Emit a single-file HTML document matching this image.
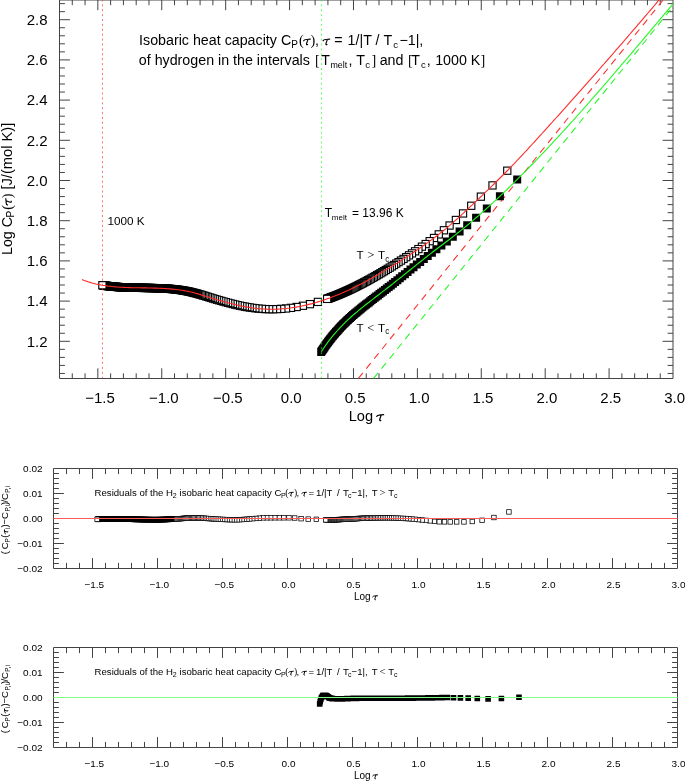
<!DOCTYPE html><html><head><meta charset="utf-8"><title>plot</title><style>html,body{margin:0;padding:0;background:#fff}svg{display:block;will-change:transform}</style></head><body><svg width="685" height="781" viewBox="0 0 685 781" font-family="'Liberation Sans', sans-serif" fill="#000"><rect width="685" height="781" fill="#fff"/><path d="M59.5 0.0V378.5H673.0V0.0ZM72.28 378.5v-5.2M72.28 0.0v5.2M85.06 378.5v-5.2M85.06 0.0v5.2M97.84 378.5v-10.2M97.84 0.0v10.2M110.63 378.5v-5.2M110.63 0.0v5.2M123.41 378.5v-5.2M123.41 0.0v5.2M136.19 378.5v-5.2M136.19 0.0v5.2M148.97 378.5v-5.2M148.97 0.0v5.2M161.75 378.5v-10.2M161.75 0.0v10.2M174.53 378.5v-5.2M174.53 0.0v5.2M187.31 378.5v-5.2M187.31 0.0v5.2M200.09 378.5v-5.2M200.09 0.0v5.2M212.88 378.5v-5.2M212.88 0.0v5.2M225.66 378.5v-10.2M225.66 0.0v10.2M238.44 378.5v-5.2M238.44 0.0v5.2M251.22 378.5v-5.2M251.22 0.0v5.2M264.00 378.5v-5.2M264.00 0.0v5.2M276.78 378.5v-5.2M276.78 0.0v5.2M289.56 378.5v-10.2M289.56 0.0v10.2M302.34 378.5v-5.2M302.34 0.0v5.2M315.12 378.5v-5.2M315.12 0.0v5.2M327.91 378.5v-5.2M327.91 0.0v5.2M340.69 378.5v-5.2M340.69 0.0v5.2M353.47 378.5v-10.2M353.47 0.0v10.2M366.25 378.5v-5.2M366.25 0.0v5.2M379.03 378.5v-5.2M379.03 0.0v5.2M391.81 378.5v-5.2M391.81 0.0v5.2M404.59 378.5v-5.2M404.59 0.0v5.2M417.38 378.5v-10.2M417.38 0.0v10.2M430.16 378.5v-5.2M430.16 0.0v5.2M442.94 378.5v-5.2M442.94 0.0v5.2M455.72 378.5v-5.2M455.72 0.0v5.2M468.50 378.5v-5.2M468.50 0.0v5.2M481.28 378.5v-10.2M481.28 0.0v10.2M494.06 378.5v-5.2M494.06 0.0v5.2M506.84 378.5v-5.2M506.84 0.0v5.2M519.62 378.5v-5.2M519.62 0.0v5.2M532.41 378.5v-5.2M532.41 0.0v5.2M545.19 378.5v-10.2M545.19 0.0v10.2M557.97 378.5v-5.2M557.97 0.0v5.2M570.75 378.5v-5.2M570.75 0.0v5.2M583.53 378.5v-5.2M583.53 0.0v5.2M596.31 378.5v-5.2M596.31 0.0v5.2M609.09 378.5v-10.2M609.09 0.0v10.2M621.88 378.5v-5.2M621.88 0.0v5.2M634.66 378.5v-5.2M634.66 0.0v5.2M647.44 378.5v-5.2M647.44 0.0v5.2M660.22 378.5v-5.2M660.22 0.0v5.2M59.5 373.46h5.4M673.0 373.46h-5.4M59.5 365.42h5.4M673.0 365.42h-5.4M59.5 357.38h5.4M673.0 357.38h-5.4M59.5 349.34h5.4M673.0 349.34h-5.4M59.5 341.30h10.4M673.0 341.30h-10.4M59.5 333.26h5.4M673.0 333.26h-5.4M59.5 325.22h5.4M673.0 325.22h-5.4M59.5 317.18h5.4M673.0 317.18h-5.4M59.5 309.14h5.4M673.0 309.14h-5.4M59.5 301.10h10.4M673.0 301.10h-10.4M59.5 293.06h5.4M673.0 293.06h-5.4M59.5 285.02h5.4M673.0 285.02h-5.4M59.5 276.98h5.4M673.0 276.98h-5.4M59.5 268.94h5.4M673.0 268.94h-5.4M59.5 260.90h10.4M673.0 260.90h-10.4M59.5 252.86h5.4M673.0 252.86h-5.4M59.5 244.82h5.4M673.0 244.82h-5.4M59.5 236.78h5.4M673.0 236.78h-5.4M59.5 228.74h5.4M673.0 228.74h-5.4M59.5 220.70h10.4M673.0 220.70h-10.4M59.5 212.66h5.4M673.0 212.66h-5.4M59.5 204.62h5.4M673.0 204.62h-5.4M59.5 196.58h5.4M673.0 196.58h-5.4M59.5 188.54h5.4M673.0 188.54h-5.4M59.5 180.50h10.4M673.0 180.50h-10.4M59.5 172.46h5.4M673.0 172.46h-5.4M59.5 164.42h5.4M673.0 164.42h-5.4M59.5 156.38h5.4M673.0 156.38h-5.4M59.5 148.34h5.4M673.0 148.34h-5.4M59.5 140.30h10.4M673.0 140.30h-10.4M59.5 132.26h5.4M673.0 132.26h-5.4M59.5 124.22h5.4M673.0 124.22h-5.4M59.5 116.18h5.4M673.0 116.18h-5.4M59.5 108.14h5.4M673.0 108.14h-5.4M59.5 100.10h10.4M673.0 100.10h-10.4M59.5 92.06h5.4M673.0 92.06h-5.4M59.5 84.02h5.4M673.0 84.02h-5.4M59.5 75.98h5.4M673.0 75.98h-5.4M59.5 67.94h5.4M673.0 67.94h-5.4M59.5 59.90h10.4M673.0 59.90h-10.4M59.5 51.86h5.4M673.0 51.86h-5.4M59.5 43.82h5.4M673.0 43.82h-5.4M59.5 35.78h5.4M673.0 35.78h-5.4M59.5 27.74h5.4M673.0 27.74h-5.4M59.5 19.70h10.4M673.0 19.70h-10.4M59.5 11.66h5.4M673.0 11.66h-5.4M59.5 3.62h5.4M673.0 3.62h-5.4" fill="none" stroke="#444" stroke-width="1"/><g font-size="15"><text x="47.6" y="25.0" text-anchor="end">2.8</text><text x="47.6" y="65.2" text-anchor="end">2.6</text><text x="47.6" y="105.4" text-anchor="end">2.4</text><text x="47.6" y="145.6" text-anchor="end">2.2</text><text x="47.6" y="185.8" text-anchor="end">2.0</text><text x="47.6" y="226.0" text-anchor="end">1.8</text><text x="47.6" y="266.2" text-anchor="end">1.6</text><text x="47.6" y="306.4" text-anchor="end">1.4</text><text x="47.6" y="346.6" text-anchor="end">1.2</text><text x="100.0" y="402.6" text-anchor="middle">−1.5</text><text x="163.9" y="402.6" text-anchor="middle">−1.0</text><text x="227.9" y="402.6" text-anchor="middle">−0.5</text><text x="291.3" y="402.6" text-anchor="middle">0.0</text><text x="355.2" y="402.6" text-anchor="middle">0.5</text><text x="419.1" y="402.6" text-anchor="middle">1.0</text><text x="483.0" y="402.6" text-anchor="middle">1.5</text><text x="546.9" y="402.6" text-anchor="middle">2.0</text><text x="610.8" y="402.6" text-anchor="middle">2.5</text><text x="674.7" y="402.6" text-anchor="middle">3.0</text></g><clipPath id="c1"><rect x="59.5" y="0" width="613.5" height="378.5"/></clipPath><g clip-path="url(#c1)"><path d="M358.4 378.4L680.5 -21.6" stroke="#ff2a2a" stroke-width="1.05" stroke-dasharray="7 5.6" fill="none"/><path d="M373.6 378.4L695.7 -21.6" stroke="#22f822" stroke-width="1.05" stroke-dasharray="7 5.6" fill="none"/><g fill="#fff" stroke="#000" stroke-width="1.12"><rect x="503.67" y="167.10" width="7.2" height="7.2"/><rect x="488.91" y="181.82" width="7.2" height="7.2"/><rect x="477.27" y="193.05" width="7.2" height="7.2"/><rect x="467.64" y="202.16" width="7.2" height="7.2"/><rect x="459.45" y="209.85" width="7.2" height="7.2"/><rect x="452.31" y="216.37" width="7.2" height="7.2"/><rect x="445.98" y="221.93" width="7.2" height="7.2"/><rect x="440.30" y="226.68" width="7.2" height="7.2"/><rect x="435.15" y="230.78" width="7.2" height="7.2"/><rect x="430.44" y="234.37" width="7.2" height="7.2"/><rect x="426.09" y="237.57" width="7.2" height="7.2"/><rect x="422.06" y="240.45" width="7.2" height="7.2"/><rect x="418.31" y="243.07" width="7.2" height="7.2"/><rect x="414.79" y="245.48" width="7.2" height="7.2"/><rect x="411.48" y="247.71" width="7.2" height="7.2"/><rect x="408.36" y="249.79" width="7.2" height="7.2"/><rect x="405.40" y="251.74" width="7.2" height="7.2"/><rect x="402.60" y="253.58" width="7.2" height="7.2"/><rect x="399.92" y="255.32" width="7.2" height="7.2"/><rect x="397.38" y="256.96" width="7.2" height="7.2"/><rect x="394.94" y="258.52" width="7.2" height="7.2"/><rect x="392.61" y="260.00" width="7.2" height="7.2"/><rect x="390.37" y="261.41" width="7.2" height="7.2"/><rect x="388.21" y="262.75" width="7.2" height="7.2"/><rect x="386.14" y="264.04" width="7.2" height="7.2"/><rect x="384.14" y="265.26" width="7.2" height="7.2"/><rect x="382.21" y="266.43" width="7.2" height="7.2"/><rect x="380.35" y="267.56" width="7.2" height="7.2"/><rect x="378.55" y="268.63" width="7.2" height="7.2"/><rect x="376.80" y="269.66" width="7.2" height="7.2"/><rect x="375.11" y="270.66" width="7.2" height="7.2"/><rect x="373.46" y="271.61" width="7.2" height="7.2"/><rect x="371.87" y="272.53" width="7.2" height="7.2"/><rect x="370.32" y="273.41" width="7.2" height="7.2"/><rect x="368.81" y="274.26" width="7.2" height="7.2"/><rect x="367.34" y="275.09" width="7.2" height="7.2"/><rect x="365.91" y="275.88" width="7.2" height="7.2"/><rect x="364.51" y="276.64" width="7.2" height="7.2"/><rect x="363.15" y="277.38" width="7.2" height="7.2"/><rect x="361.82" y="278.10" width="7.2" height="7.2"/><rect x="360.52" y="278.79" width="7.2" height="7.2"/><rect x="359.26" y="279.46" width="7.2" height="7.2"/><rect x="358.02" y="280.11" width="7.2" height="7.2"/><rect x="356.80" y="280.73" width="7.2" height="7.2"/><rect x="355.62" y="281.34" width="7.2" height="7.2"/><rect x="354.46" y="281.93" width="7.2" height="7.2"/><rect x="353.32" y="282.51" width="7.2" height="7.2"/><rect x="352.20" y="283.06" width="7.2" height="7.2"/><rect x="351.11" y="283.60" width="7.2" height="7.2"/><rect x="350.04" y="284.12" width="7.2" height="7.2"/><rect x="348.99" y="284.63" width="7.2" height="7.2"/><rect x="347.95" y="285.12" width="7.2" height="7.2"/><rect x="346.94" y="285.60" width="7.2" height="7.2"/><rect x="345.95" y="286.07" width="7.2" height="7.2"/><rect x="344.97" y="286.53" width="7.2" height="7.2" fill="#000"/><rect x="344.01" y="286.97" width="7.2" height="7.2" fill="#000"/><rect x="343.06" y="287.40" width="7.2" height="7.2" fill="#000"/><rect x="342.13" y="287.82" width="7.2" height="7.2" fill="#000"/><rect x="341.22" y="288.22" width="7.2" height="7.2" fill="#000"/><rect x="340.32" y="288.62" width="7.2" height="7.2" fill="#000"/><rect x="339.44" y="289.01" width="7.2" height="7.2" fill="#000"/><rect x="338.57" y="289.38" width="7.2" height="7.2" fill="#000"/><rect x="337.71" y="289.75" width="7.2" height="7.2" fill="#000"/><rect x="336.87" y="290.11" width="7.2" height="7.2" fill="#000"/><rect x="336.04" y="290.46" width="7.2" height="7.2" fill="#000"/><rect x="335.22" y="290.80" width="7.2" height="7.2" fill="#000"/><rect x="334.41" y="291.13" width="7.2" height="7.2" fill="#000"/><rect x="333.61" y="291.46" width="7.2" height="7.2" fill="#000"/><rect x="332.83" y="291.77" width="7.2" height="7.2" fill="#000"/><rect x="332.06" y="292.08" width="7.2" height="7.2" fill="#000"/><rect x="331.29" y="292.38" width="7.2" height="7.2" fill="#000"/><rect x="330.54" y="292.68" width="7.2" height="7.2" fill="#000"/><rect x="329.80" y="292.97" width="7.2" height="7.2" fill="#000"/><rect x="329.07" y="293.25" width="7.2" height="7.2" fill="#000"/><rect x="328.34" y="293.52" width="7.2" height="7.2" fill="#000"/><rect x="327.63" y="293.79" width="7.2" height="7.2" fill="#000"/><rect x="326.93" y="294.06" width="7.2" height="7.2" fill="#000"/><rect x="326.23" y="294.31" width="7.2" height="7.2" fill="#000"/><rect x="325.54" y="294.56" width="7.2" height="7.2" fill="#000"/><rect x="324.86" y="294.81" width="7.2" height="7.2" fill="#000"/><rect x="324.19" y="295.05" width="7.2" height="7.2" fill="#000"/><rect x="323.53" y="295.29" width="7.2" height="7.2"/><rect x="314.30" y="298.31" width="7.2" height="7.2"/><rect x="306.31" y="300.54" width="7.2" height="7.2"/><rect x="299.32" y="302.17" width="7.2" height="7.2"/><rect x="293.03" y="303.39" width="7.2" height="7.2"/><rect x="287.40" y="304.26" width="7.2" height="7.2"/><rect x="282.39" y="304.87" width="7.2" height="7.2"/><rect x="277.77" y="305.27" width="7.2" height="7.2"/><rect x="273.47" y="305.51" width="7.2" height="7.2"/><rect x="269.42" y="305.62" width="7.2" height="7.2"/><rect x="265.56" y="305.61" width="7.2" height="7.2"/><rect x="261.86" y="305.50" width="7.2" height="7.2"/><rect x="258.32" y="305.30" width="7.2" height="7.2"/><rect x="254.92" y="305.02" width="7.2" height="7.2"/><rect x="251.77" y="304.67" width="7.2" height="7.2"/><rect x="248.85" y="304.29" width="7.2" height="7.2"/><rect x="246.18" y="303.90" width="7.2" height="7.2"/><rect x="243.73" y="303.49" width="7.2" height="7.2"/><rect x="241.29" y="303.05" width="7.2" height="7.2"/><rect x="238.86" y="302.58" width="7.2" height="7.2"/><rect x="236.45" y="302.08" width="7.2" height="7.2"/><rect x="234.04" y="301.55" width="7.2" height="7.2"/><rect x="231.65" y="301.00" width="7.2" height="7.2"/><rect x="229.27" y="300.42" width="7.2" height="7.2"/><rect x="226.89" y="299.83" width="7.2" height="7.2"/><rect x="224.53" y="299.21" width="7.2" height="7.2"/><rect x="222.18" y="298.58" width="7.2" height="7.2"/><rect x="219.90" y="297.95" width="7.2" height="7.2"/><rect x="217.69" y="297.32" width="7.2" height="7.2"/><rect x="215.54" y="296.70" width="7.2" height="7.2"/><rect x="213.47" y="296.09" width="7.2" height="7.2"/><rect x="211.45" y="295.49" width="7.2" height="7.2"/><rect x="209.50" y="294.90" width="7.2" height="7.2"/><rect x="207.65" y="294.33" width="7.2" height="7.2"/><rect x="205.88" y="293.79" width="7.2" height="7.2"/><rect x="204.21" y="293.27" width="7.2" height="7.2"/><rect x="202.62" y="292.78" width="7.2" height="7.2"/><rect x="201.11" y="292.31" width="7.2" height="7.2"/><rect x="199.65" y="291.87" width="7.2" height="7.2"/><rect x="198.25" y="291.44" width="7.2" height="7.2"/><rect x="196.90" y="291.04" width="7.2" height="7.2"/><rect x="195.60" y="290.66" width="7.2" height="7.2"/><rect x="194.34" y="290.30" width="7.2" height="7.2"/><rect x="193.11" y="289.95" width="7.2" height="7.2" fill="#000"/><rect x="191.90" y="289.62" width="7.2" height="7.2" fill="#000"/><rect x="190.70" y="289.30" width="7.2" height="7.2" fill="#000"/><rect x="189.53" y="289.00" width="7.2" height="7.2" fill="#000"/><rect x="188.38" y="288.71" width="7.2" height="7.2" fill="#000"/><rect x="187.25" y="288.44" width="7.2" height="7.2" fill="#000"/><rect x="186.13" y="288.18" width="7.2" height="7.2" fill="#000"/><rect x="185.03" y="287.94" width="7.2" height="7.2" fill="#000"/><rect x="183.94" y="287.71" width="7.2" height="7.2" fill="#000"/><rect x="182.85" y="287.49" width="7.2" height="7.2" fill="#000"/><rect x="181.77" y="287.29" width="7.2" height="7.2" fill="#000"/><rect x="180.69" y="287.09" width="7.2" height="7.2" fill="#000"/><rect x="179.62" y="286.91" width="7.2" height="7.2" fill="#000"/><rect x="178.56" y="286.73" width="7.2" height="7.2" fill="#000"/><rect x="177.50" y="286.56" width="7.2" height="7.2" fill="#000"/><rect x="176.44" y="286.41" width="7.2" height="7.2" fill="#000"/><rect x="175.39" y="286.26" width="7.2" height="7.2" fill="#000"/><rect x="174.35" y="286.12" width="7.2" height="7.2" fill="#000"/><rect x="173.31" y="285.99" width="7.2" height="7.2" fill="#000"/><rect x="172.27" y="285.86" width="7.2" height="7.2" fill="#000"/><rect x="171.24" y="285.75" width="7.2" height="7.2" fill="#000"/><rect x="170.22" y="285.64" width="7.2" height="7.2" fill="#000"/><rect x="169.20" y="285.54" width="7.2" height="7.2" fill="#000"/><rect x="168.18" y="285.44" width="7.2" height="7.2" fill="#000"/><rect x="167.18" y="285.35" width="7.2" height="7.2" fill="#000"/><rect x="166.17" y="285.27" width="7.2" height="7.2" fill="#000"/><rect x="165.17" y="285.19" width="7.2" height="7.2" fill="#000"/><rect x="164.18" y="285.11" width="7.2" height="7.2" fill="#000"/><rect x="163.19" y="285.05" width="7.2" height="7.2" fill="#000"/><rect x="162.21" y="284.98" width="7.2" height="7.2" fill="#000"/><rect x="161.23" y="284.92" width="7.2" height="7.2" fill="#000"/><rect x="160.25" y="284.87" width="7.2" height="7.2" fill="#000"/><rect x="159.28" y="284.82" width="7.2" height="7.2" fill="#000"/><rect x="158.32" y="284.77" width="7.2" height="7.2" fill="#000"/><rect x="157.36" y="284.73" width="7.2" height="7.2" fill="#000"/><rect x="156.41" y="284.69" width="7.2" height="7.2" fill="#000"/><rect x="155.46" y="284.65" width="7.2" height="7.2" fill="#000"/><rect x="154.51" y="284.62" width="7.2" height="7.2" fill="#000"/><rect x="153.57" y="284.58" width="7.2" height="7.2" fill="#000"/><rect x="152.63" y="284.55" width="7.2" height="7.2" fill="#000"/><rect x="151.70" y="284.53" width="7.2" height="7.2" fill="#000"/><rect x="150.78" y="284.50" width="7.2" height="7.2" fill="#000"/><rect x="149.85" y="284.48" width="7.2" height="7.2" fill="#000"/><rect x="148.94" y="284.46" width="7.2" height="7.2" fill="#000"/><rect x="148.02" y="284.44" width="7.2" height="7.2" fill="#000"/><rect x="147.12" y="284.42" width="7.2" height="7.2" fill="#000"/><rect x="146.21" y="284.40" width="7.2" height="7.2" fill="#000"/><rect x="145.31" y="284.39" width="7.2" height="7.2" fill="#000"/><rect x="144.42" y="284.37" width="7.2" height="7.2" fill="#000"/><rect x="143.54" y="284.35" width="7.2" height="7.2" fill="#000"/><rect x="142.66" y="284.34" width="7.2" height="7.2" fill="#000"/><rect x="141.79" y="284.33" width="7.2" height="7.2" fill="#000"/><rect x="140.93" y="284.31" width="7.2" height="7.2" fill="#000"/><rect x="140.08" y="284.30" width="7.2" height="7.2" fill="#000"/><rect x="139.23" y="284.29" width="7.2" height="7.2" fill="#000"/><rect x="138.39" y="284.27" width="7.2" height="7.2" fill="#000"/><rect x="137.56" y="284.26" width="7.2" height="7.2" fill="#000"/><rect x="136.73" y="284.25" width="7.2" height="7.2" fill="#000"/><rect x="135.91" y="284.23" width="7.2" height="7.2" fill="#000"/><rect x="135.10" y="284.22" width="7.2" height="7.2" fill="#000"/><rect x="134.29" y="284.20" width="7.2" height="7.2" fill="#000"/><rect x="133.49" y="284.19" width="7.2" height="7.2" fill="#000"/><rect x="132.70" y="284.17" width="7.2" height="7.2" fill="#000"/><rect x="131.92" y="284.16" width="7.2" height="7.2" fill="#000"/><rect x="131.14" y="284.14" width="7.2" height="7.2" fill="#000"/><rect x="130.36" y="284.12" width="7.2" height="7.2" fill="#000"/><rect x="129.60" y="284.10" width="7.2" height="7.2" fill="#000"/><rect x="128.84" y="284.09" width="7.2" height="7.2" fill="#000"/><rect x="128.08" y="284.07" width="7.2" height="7.2" fill="#000"/><rect x="127.34" y="284.04" width="7.2" height="7.2" fill="#000"/><rect x="126.60" y="284.02" width="7.2" height="7.2" fill="#000"/><rect x="125.86" y="284.00" width="7.2" height="7.2" fill="#000"/><rect x="125.13" y="283.97" width="7.2" height="7.2" fill="#000"/><rect x="124.41" y="283.95" width="7.2" height="7.2" fill="#000"/><rect x="123.69" y="283.92" width="7.2" height="7.2" fill="#000"/><rect x="122.98" y="283.89" width="7.2" height="7.2" fill="#000"/><rect x="122.28" y="283.86" width="7.2" height="7.2" fill="#000"/><rect x="121.58" y="283.83" width="7.2" height="7.2" fill="#000"/><rect x="120.88" y="283.80" width="7.2" height="7.2" fill="#000"/><rect x="120.20" y="283.77" width="7.2" height="7.2" fill="#000"/><rect x="119.52" y="283.74" width="7.2" height="7.2" fill="#000"/><rect x="118.84" y="283.70" width="7.2" height="7.2" fill="#000"/><rect x="118.17" y="283.66" width="7.2" height="7.2" fill="#000"/><rect x="117.50" y="283.62" width="7.2" height="7.2" fill="#000"/><rect x="116.85" y="283.58" width="7.2" height="7.2" fill="#000"/><rect x="116.19" y="283.54" width="7.2" height="7.2" fill="#000"/><rect x="115.54" y="283.50" width="7.2" height="7.2" fill="#000"/><rect x="114.90" y="283.46" width="7.2" height="7.2" fill="#000"/><rect x="114.26" y="283.41" width="7.2" height="7.2" fill="#000"/><rect x="113.63" y="283.37" width="7.2" height="7.2" fill="#000"/><rect x="113.00" y="283.32" width="7.2" height="7.2" fill="#000"/><rect x="112.38" y="283.27" width="7.2" height="7.2" fill="#000"/><rect x="111.77" y="283.22" width="7.2" height="7.2" fill="#000"/><rect x="111.15" y="283.17" width="7.2" height="7.2" fill="#000"/><rect x="110.55" y="283.11" width="7.2" height="7.2" fill="#000"/><rect x="109.95" y="283.06" width="7.2" height="7.2" fill="#000"/><rect x="109.35" y="283.00" width="7.2" height="7.2" fill="#000"/><rect x="108.76" y="282.94" width="7.2" height="7.2" fill="#000"/><rect x="108.17" y="282.88" width="7.2" height="7.2" fill="#000"/><rect x="107.59" y="282.82" width="7.2" height="7.2" fill="#000"/><rect x="107.01" y="282.76" width="7.2" height="7.2" fill="#000"/><rect x="106.44" y="282.70" width="7.2" height="7.2" fill="#000"/><rect x="105.88" y="282.63" width="7.2" height="7.2" fill="#000"/><rect x="105.31" y="282.57" width="7.2" height="7.2" fill="#000"/><rect x="104.76" y="282.50" width="7.2" height="7.2" fill="#000"/><rect x="104.20" y="282.43" width="7.2" height="7.2" fill="#000"/><rect x="103.65" y="282.36" width="7.2" height="7.2" fill="#000"/><rect x="103.11" y="282.29" width="7.2" height="7.2" fill="#000"/><rect x="102.57" y="282.22" width="7.2" height="7.2" fill="#000"/><rect x="102.04" y="282.14" width="7.2" height="7.2" fill="#000"/><rect x="101.51" y="282.07" width="7.2" height="7.2" fill="#000"/><rect x="100.98" y="281.99" width="7.2" height="7.2" fill="#000"/><rect x="100.46" y="281.91" width="7.2" height="7.2" fill="#000"/><rect x="99.94" y="281.83" width="7.2" height="7.2" fill="#000"/><rect x="99.43" y="281.75" width="7.2" height="7.2" fill="#000"/><rect x="98.80" y="281.65" width="7.2" height="7.2"/></g><path d="M513.2 175.5h8.0v8.0h-8.0zM495.9 192.2h8.0v8.0h-8.0zM482.8 204.4h8.0v8.0h-8.0zM472.1 213.7h8.0v8.0h-8.0zM463.2 221.3h8.0v8.0h-8.0zM455.6 227.5h8.0v8.0h-8.0zM448.8 232.8h8.0v8.0h-8.0zM442.8 237.4h8.0v8.0h-8.0zM437.4 241.5h8.0v8.0h-8.0zM432.4 245.2h8.0v8.0h-8.0zM427.9 248.7h8.0v8.0h-8.0zM423.7 251.9h8.0v8.0h-8.0zM419.8 255.0h8.0v8.0h-8.0zM416.2 257.9h8.0v8.0h-8.0zM412.8 260.6h8.0v8.0h-8.0zM409.5 263.2h8.0v8.0h-8.0zM406.5 265.6h8.0v8.0h-8.0zM403.6 267.9h8.0v8.0h-8.0zM400.9 270.2h8.0v8.0h-8.0zM398.2 272.3h8.0v8.0h-8.0zM395.8 274.3h8.0v8.0h-8.0zM393.4 276.2h8.0v8.0h-8.0zM391.1 278.0h8.0v8.0h-8.0zM388.9 279.7h8.0v8.0h-8.0zM386.8 281.4h8.0v8.0h-8.0zM384.7 283.0h8.0v8.0h-8.0zM382.8 284.5h8.0v8.0h-8.0zM380.9 286.0h8.0v8.0h-8.0zM379.0 287.4h8.0v8.0h-8.0zM377.2 288.7h8.0v8.0h-8.0zM375.5 290.1h8.0v8.0h-8.0zM373.9 291.4h8.0v8.0h-8.0zM372.2 292.6h8.0v8.0h-8.0zM370.7 293.8h8.0v8.0h-8.0zM369.1 295.0h8.0v8.0h-8.0zM367.6 296.1h8.0v8.0h-8.0zM366.2 297.3h8.0v8.0h-8.0zM364.8 298.4h8.0v8.0h-8.0zM363.4 299.4h8.0v8.0h-8.0zM362.0 300.5h8.0v8.0h-8.0zM360.7 301.5h8.0v8.0h-8.0zM359.4 302.6h8.0v8.0h-8.0zM358.2 303.6h8.0v8.0h-8.0zM357.0 304.5h8.0v8.0h-8.0zM355.8 305.5h8.0v8.0h-8.0zM354.6 306.5h8.0v8.0h-8.0zM353.4 307.4h8.0v8.0h-8.0zM352.3 308.4h8.0v8.0h-8.0zM351.2 309.3h8.0v8.0h-8.0zM350.1 310.2h8.0v8.0h-8.0zM349.1 311.1h8.0v8.0h-8.0zM348.0 312.1h8.0v8.0h-8.0zM347.0 313.0h8.0v8.0h-8.0zM346.0 313.9h8.0v8.0h-8.0zM345.0 314.8h8.0v8.0h-8.0zM344.0 315.7h8.0v8.0h-8.0zM343.1 316.6h8.0v8.0h-8.0zM342.1 317.5h8.0v8.0h-8.0zM341.2 318.4h8.0v8.0h-8.0zM340.3 319.3h8.0v8.0h-8.0zM339.4 320.1h8.0v8.0h-8.0zM338.5 321.0h8.0v8.0h-8.0zM337.7 321.9h8.0v8.0h-8.0zM336.8 322.8h8.0v8.0h-8.0zM336.0 323.7h8.0v8.0h-8.0zM335.2 324.6h8.0v8.0h-8.0zM334.4 325.5h8.0v8.0h-8.0zM333.6 326.4h8.0v8.0h-8.0zM332.8 327.2h8.0v8.0h-8.0zM332.0 328.1h8.0v8.0h-8.0zM331.2 329.0h8.0v8.0h-8.0zM330.5 329.9h8.0v8.0h-8.0zM329.7 330.8h8.0v8.0h-8.0zM329.0 331.7h8.0v8.0h-8.0zM328.2 332.6h8.0v8.0h-8.0zM327.5 333.5h8.0v8.0h-8.0zM326.8 334.4h8.0v8.0h-8.0zM326.1 335.3h8.0v8.0h-8.0zM325.4 336.2h8.0v8.0h-8.0zM324.7 337.1h8.0v8.0h-8.0zM324.1 338.0h8.0v8.0h-8.0zM323.4 338.9h8.0v8.0h-8.0zM322.7 339.8h8.0v8.0h-8.0zM322.1 340.7h8.0v8.0h-8.0zM321.4 341.6h8.0v8.0h-8.0zM320.8 342.5h8.0v8.0h-8.0zM320.2 343.4h8.0v8.0h-8.0zM319.6 344.4h8.0v8.0h-8.0zM318.9 345.3h8.0v8.0h-8.0zM318.3 346.2h8.0v8.0h-8.0zM317.7 347.1h8.0v8.0h-8.0zM317.2 347.9h8.0v8.0h-8.0z" fill="#000" stroke="none"/><path d="M102.5 0V378" stroke="#ff2a2a" stroke-width="1" stroke-dasharray="2 2.9" stroke-dashoffset="0.6" fill="none" opacity="0.66"/><path d="M321.4 0V378" stroke="#22f822" stroke-width="1" stroke-dasharray="2 2.9" stroke-dashoffset="0.6" fill="none" opacity="0.66"/><path d="M82.0 279.6L84.0 280.4L86.0 281.1L88.0 281.8L90.0 282.4L92.0 283.0L94.0 283.5L96.0 284.0L98.0 284.4L100.0 284.8L102.0 285.2L104.0 285.5L106.0 285.8L108.0 286.1L110.0 286.3L112.0 286.5L114.0 286.7L116.0 286.9L118.0 287.0L120.0 287.2L122.0 287.3L124.0 287.4L126.0 287.5L128.0 287.5L130.0 287.6L132.0 287.7L134.0 287.7L136.0 287.8L138.0 287.8L140.0 287.8L142.0 287.9L144.0 287.9L146.0 287.9L148.0 288.0L150.0 288.0L152.0 288.0L154.0 288.1L156.0 288.1L158.0 288.2L160.0 288.3L162.0 288.4L164.0 288.5L166.0 288.6L168.0 288.7L170.0 288.9L172.0 289.1L174.0 289.3L176.0 289.5L178.0 289.7L180.0 290.0L182.0 290.3L184.0 290.6L186.0 291.0L188.0 291.4L190.0 291.8L192.0 292.3L194.0 292.8L196.0 293.4L198.0 293.9L200.0 294.5L202.0 295.1L204.0 295.7L206.0 296.3L208.0 296.9L210.0 297.5L212.0 298.2L214.0 298.8L216.0 299.4L218.0 300.0L220.0 300.5L222.0 301.1L224.0 301.7L226.0 302.2L228.0 302.8L230.0 303.3L232.0 303.8L234.0 304.3L236.0 304.8L238.0 305.2L240.0 305.7L242.0 306.1L244.0 306.5L246.0 306.9L248.0 307.2L250.0 307.5L252.0 307.8L254.0 308.1L256.0 308.3L258.0 308.6L260.0 308.7L262.0 308.9L264.0 309.0L266.0 309.1L268.0 309.2L270.0 309.2L272.0 309.2L274.0 309.2L276.0 309.2L278.0 309.1L280.0 309.0L282.0 308.8L284.0 308.7L286.0 308.5L288.0 308.2L290.0 308.0L292.0 307.7L294.0 307.4L296.0 307.1L298.0 306.7L300.0 306.4L302.0 306.0L304.0 305.5L306.0 305.1L308.0 304.6L310.0 304.1L312.0 303.6L314.0 303.0L316.0 302.5L318.0 301.9L320.0 301.3L322.0 300.6L324.0 300.0L326.0 299.3L328.0 298.6L330.0 297.9L332.0 297.1L334.0 296.3L336.0 295.5L338.0 294.7L340.0 293.9L342.0 293.1L344.0 292.2L346.0 291.3L348.0 290.4L350.0 289.5L352.0 288.5L354.0 287.5L356.0 286.6L358.0 285.6L360.0 284.5L362.0 283.5L364.0 282.5L366.0 281.4L368.0 280.3L370.0 279.2L372.0 278.1L374.0 277.0L376.0 275.8L378.0 274.7L380.0 273.5L382.0 272.3L384.0 271.1L386.0 269.9L388.0 268.7L390.0 267.5L392.0 266.2L394.0 265.0L396.0 263.7L398.0 262.5L400.0 261.2L402.0 259.9L404.0 258.6L406.0 257.3L408.0 256.0L410.0 254.7L412.0 253.4L414.0 252.0L416.0 250.7L418.0 249.3L420.0 248.0L422.0 246.6L424.0 245.2L426.0 243.8L428.0 242.4L430.0 240.9L432.0 239.5L434.0 238.0L436.0 236.5L438.0 235.0L440.0 233.4L442.0 231.8L444.0 230.2L446.0 228.6L448.0 226.9L450.0 225.2L452.0 223.4L454.0 221.7L456.0 219.9L458.0 218.1L460.0 216.3L462.0 214.4L464.0 212.6L466.0 210.7L468.0 208.8L470.0 206.9L472.0 205.1L474.0 203.2L476.0 201.3L478.0 199.4L480.0 197.5L482.0 195.6L484.0 193.7L486.0 191.7L488.0 189.8L490.0 187.9L492.0 185.9L494.0 184.0L496.0 182.0L498.0 180.0L500.0 178.0L502.0 176.0L504.0 174.0L506.0 172.0L508.0 170.0L510.0 167.9L512.0 165.8L514.0 163.8L516.0 161.7L518.0 159.5L520.0 157.4L522.0 155.3L524.0 153.2L526.0 151.0L528.0 148.9L530.0 146.7L532.0 144.5L534.0 142.3L536.0 140.1L538.0 137.9L540.0 135.7L542.0 133.5L544.0 131.3L546.0 129.1L548.0 126.9L550.0 124.7L552.0 122.5L554.0 120.2L556.0 118.0L558.0 115.8L560.0 113.6L562.0 111.3L564.0 109.1L566.0 106.9L568.0 104.6L570.0 102.4L572.0 100.1L574.0 97.9L576.0 95.7L578.0 93.4L580.0 91.2L582.0 88.9L584.0 86.6L586.0 84.4L588.0 82.1L590.0 79.9L592.0 77.6L594.0 75.3L596.0 73.1L598.0 70.8L600.0 68.5L602.0 66.2L604.0 64.0L606.0 61.7L608.0 59.4L610.0 57.1L612.0 54.8L614.0 52.5L616.0 50.2L618.0 47.9L620.0 45.6L622.0 43.3L624.0 41.0L626.0 38.7L628.0 36.4L630.0 34.0L632.0 31.7L634.0 29.4L636.0 27.1L638.0 24.7L640.0 22.4L642.0 20.1L644.0 17.7L646.0 15.4L648.0 13.0L650.0 10.7L652.0 8.3L654.0 6.0L656.0 3.6L658.0 1.2L660.0 -1.1L662.0 -3.5L664.0 -5.9L666.0 -8.3L668.0 -10.6" fill="none" stroke="#ff2a2a" stroke-width="1.1"/><path d="M321.4 351.6L323.0 349.2L325.0 346.3L327.0 343.4L329.0 340.7L331.0 338.2L333.0 335.7L335.0 333.3L337.0 331.0L339.0 328.8L341.0 326.6L343.0 324.6L345.0 322.6L347.0 320.6L349.0 318.8L351.0 317.0L353.0 315.2L355.0 313.5L357.0 311.8L359.0 310.1L361.0 308.5L363.0 306.9L365.0 305.3L367.0 303.7L369.0 302.2L371.0 300.6L373.0 299.1L375.0 297.5L377.0 296.0L379.0 294.5L381.0 292.9L383.0 291.4L385.0 289.9L387.0 288.3L389.0 286.8L391.0 285.2L393.0 283.6L395.0 282.0L397.0 280.4L399.0 278.9L401.0 277.3L403.0 275.6L405.0 274.0L407.0 272.4L409.0 270.8L411.0 269.2L413.0 267.6L415.0 266.0L417.0 264.4L419.0 262.8L421.0 261.2L423.0 259.6L425.0 258.0L427.0 256.5L429.0 254.9L431.0 253.4L433.0 251.8L435.0 250.3L437.0 248.8L439.0 247.3L441.0 245.8L443.0 244.3L445.0 242.7L447.0 241.2L449.0 239.7L451.0 238.2L453.0 236.6L455.0 235.1L457.0 233.5L459.0 232.0L461.0 230.4L463.0 228.7L465.0 227.1L467.0 225.5L469.0 223.8L471.0 222.1L473.0 220.4L475.0 218.7L477.0 217.0L479.0 215.3L481.0 213.5L483.0 211.7L485.0 210.0L487.0 208.2L489.0 206.3L491.0 204.5L493.0 202.7L495.0 200.8L497.0 199.0L499.0 197.1L501.0 195.2L503.0 193.3L505.0 191.4L507.0 189.5L509.0 187.5L511.0 185.6L513.0 183.6L515.0 181.7L517.0 179.7L519.0 177.7L521.0 175.7L523.0 173.7L525.0 171.7L527.0 169.6L529.0 167.6L531.0 165.5L533.0 163.5L535.0 161.4L537.0 159.3L539.0 157.2L541.0 155.2L543.0 153.0L545.0 150.9L547.0 148.8L549.0 146.7L551.0 144.5L553.0 142.4L555.0 140.2L557.0 138.1L559.0 135.9L561.0 133.7L563.0 131.5L565.0 129.3L567.0 127.1L569.0 124.9L571.0 122.7L573.0 120.5L575.0 118.3L577.0 116.0L579.0 113.8L581.0 111.5L583.0 109.3L585.0 107.0L587.0 104.8L589.0 102.5L591.0 100.2L593.0 97.9L595.0 95.7L597.0 93.4L599.0 91.1L601.0 88.8L603.0 86.5L605.0 84.2L607.0 81.8L609.0 79.5L611.0 77.2L613.0 74.9L615.0 72.5L617.0 70.2L619.0 67.9L621.0 65.5L623.0 63.2L625.0 60.8L627.0 58.5L629.0 56.1L631.0 53.8L633.0 51.4L635.0 49.0L637.0 46.7L639.0 44.3L641.0 42.0L643.0 39.6L645.0 37.2L647.0 34.8L649.0 32.5L651.0 30.1L653.0 27.7L655.0 25.3L657.0 23.0L659.0 20.6L661.0 18.2L663.0 15.8L665.0 13.4L667.0 11.1L669.0 8.7L671.0 6.3L673.0 3.9L675.0 1.5L677.0 -0.8L679.0 -3.2L681.0 -5.6L683.0 -8.0L685.0 -10.3L687.0 -12.7L689.0 -15.1" fill="none" stroke="#22f822" stroke-width="1.1"/></g><text x="139.1" y="45.0" font-size="14.25">Isobaric heat capacity C</text><text x="291.2" y="47.6" font-size="10">P</text><text x="299.0" y="45.0" font-size="14.25" font-family="'Liberation Serif', serif">(</text><path transform="translate(303.6,45.0)" d="M0.1-4.2C0.6-5.3 1.2-5.5 2.3-5.5L6.7-5.9M4.4-5.6L3-1.6C2.7-0.5 3.1-0.1 4-0.5" fill="none" stroke="#000" stroke-width="1.15" stroke-linecap="round" stroke-linejoin="round"/><text x="310.5" y="45.0" font-size="14.25" font-family="'Liberation Serif', serif">)</text><text x="315.1" y="45.0" font-size="14.25">,</text><path transform="translate(323.0,45.0)" d="M0.1-4.2C0.6-5.3 1.2-5.5 2.3-5.5L6.7-5.9M4.4-5.6L3-1.6C2.7-0.5 3.1-0.1 4-0.5" fill="none" stroke="#000" stroke-width="1.15" stroke-linecap="round" stroke-linejoin="round"/><text x="334.3" y="45.0" font-size="14.25">=</text><text x="347.6" y="45.0" font-size="14.25">1/|T /</text><text x="383.6" y="45.0" font-size="14.25">T</text><text x="393.2" y="47.6" font-size="9.6">c</text><text x="399.4" y="45.0" font-size="14.25">−1|,</text><text x="138.8" y="65.1" font-size="14.25">of hydrogen in the intervals</text><text x="314.9" y="65.1" font-size="14.25" font-family="'Liberation Serif', serif">[</text><text x="321.2" y="65.1" font-size="14.25">T</text><text x="330.4" y="67.7" font-size="8.9">melt</text><text x="348.6" y="65.1" font-size="14.25">, T</text><text x="365.3" y="67.7" font-size="9.6">c</text><text x="371.4" y="65.1" font-size="14.25" font-family="'Liberation Serif', serif">]</text><text x="379.7" y="65.1" font-size="14.25">and</text><text x="407.9" y="65.1" font-size="14.25" font-family="'Liberation Serif', serif">[</text><text x="411.2" y="65.1" font-size="14.25">T</text><text x="421.0" y="67.7" font-size="9.6">c</text><text x="426.7" y="65.1" font-size="14.25">,</text><text x="435.2" y="65.1" font-size="14.25">1000 K</text><text x="480.4" y="65.1" font-size="14.25" font-family="'Liberation Serif', serif">]</text><text x="348.7" y="420.9" font-size="14.6">Log</text><path transform="translate(376.6,420.9) scale(1.050)" d="M0.1-4.2C0.6-5.3 1.2-5.5 2.3-5.5L6.7-5.9M4.4-5.6L3-1.6C2.7-0.5 3.1-0.1 4-0.5" fill="none" stroke="#000" stroke-width="1.15" stroke-linecap="round" stroke-linejoin="round"/><g transform="translate(11.7,255) rotate(-90)"><text x="0.0" y="0.0" font-size="14.25">Log C</text><text x="37.5" y="2.6" font-size="10">P</text><text x="45.2" y="0.0" font-size="14.25" font-family="'Liberation Serif', serif">(</text><path transform="translate(49.8,0.0)" d="M0.1-4.2C0.6-5.3 1.2-5.5 2.3-5.5L6.7-5.9M4.4-5.6L3-1.6C2.7-0.5 3.1-0.1 4-0.5" fill="none" stroke="#000" stroke-width="1.15" stroke-linecap="round" stroke-linejoin="round"/><text x="56.7" y="0.0" font-size="14.25" font-family="'Liberation Serif', serif">)</text><text x="65.4" y="0.0" font-size="14.7">[J/(mol K)]</text></g><text x="107.5" y="225.1" font-size="11.7">1000 K</text><text x="324.7" y="217.0" font-size="12">T</text><text x="331.8" y="219.6" font-size="8.0">melt</text><text x="352.0" y="217.0" font-size="12">= 13.96 K</text><text x="356.4" y="259.4" font-size="11.6">T</text><text x="367.2" y="259.4" font-size="12.5" font-family="'Liberation Serif', serif">&gt;</text><text x="378.0" y="259.4" font-size="11.6">T</text><text x="385.2" y="261.6" font-size="8.2">c</text><text x="356.4" y="332.0" font-size="11.6">T</text><text x="367.2" y="332.0" font-size="12.5" font-family="'Liberation Serif', serif">&lt;</text><text x="378.0" y="332.0" font-size="11.6">T</text><text x="385.2" y="334.2" font-size="8.2">c</text><path d="M53.5 468.5V568.5H677.5V468.5ZM66.50 568.5v-5.6M66.50 468.5v5.6M79.50 568.5v-5.6M79.50 468.5v5.6M92.50 568.5v-10.4M92.50 468.5v10.4M105.50 568.5v-5.6M105.50 468.5v5.6M118.50 568.5v-5.6M118.50 468.5v5.6M131.50 568.5v-5.6M131.50 468.5v5.6M144.50 568.5v-5.6M144.50 468.5v5.6M157.50 568.5v-10.4M157.50 468.5v10.4M170.50 568.5v-5.6M170.50 468.5v5.6M183.50 568.5v-5.6M183.50 468.5v5.6M196.50 568.5v-5.6M196.50 468.5v5.6M209.50 568.5v-5.6M209.50 468.5v5.6M222.50 568.5v-10.4M222.50 468.5v10.4M235.50 568.5v-5.6M235.50 468.5v5.6M248.50 568.5v-5.6M248.50 468.5v5.6M261.50 568.5v-5.6M261.50 468.5v5.6M274.50 568.5v-5.6M274.50 468.5v5.6M287.50 568.5v-10.4M287.50 468.5v10.4M300.50 568.5v-5.6M300.50 468.5v5.6M313.50 568.5v-5.6M313.50 468.5v5.6M326.50 568.5v-5.6M326.50 468.5v5.6M339.50 568.5v-5.6M339.50 468.5v5.6M352.50 568.5v-10.4M352.50 468.5v10.4M365.50 568.5v-5.6M365.50 468.5v5.6M378.50 568.5v-5.6M378.50 468.5v5.6M391.50 568.5v-5.6M391.50 468.5v5.6M404.50 568.5v-5.6M404.50 468.5v5.6M417.50 568.5v-10.4M417.50 468.5v10.4M430.50 568.5v-5.6M430.50 468.5v5.6M443.50 568.5v-5.6M443.50 468.5v5.6M456.50 568.5v-5.6M456.50 468.5v5.6M469.50 568.5v-5.6M469.50 468.5v5.6M482.50 568.5v-10.4M482.50 468.5v10.4M495.50 568.5v-5.6M495.50 468.5v5.6M508.50 568.5v-5.6M508.50 468.5v5.6M521.50 568.5v-5.6M521.50 468.5v5.6M534.50 568.5v-5.6M534.50 468.5v5.6M547.50 568.5v-10.4M547.50 468.5v10.4M560.50 568.5v-5.6M560.50 468.5v5.6M573.50 568.5v-5.6M573.50 468.5v5.6M586.50 568.5v-5.6M586.50 468.5v5.6M599.50 568.5v-5.6M599.50 468.5v5.6M612.50 568.5v-10.4M612.50 468.5v10.4M625.50 568.5v-5.6M625.50 468.5v5.6M638.50 568.5v-5.6M638.50 468.5v5.6M651.50 568.5v-5.6M651.50 468.5v5.6M664.50 568.5v-5.6M664.50 468.5v5.6M53.5 473.50h5.4M677.5 473.50h-5.4M53.5 478.50h5.4M677.5 478.50h-5.4M53.5 483.50h5.4M677.5 483.50h-5.4M53.5 488.50h5.4M677.5 488.50h-5.4M53.5 493.50h10.4M677.5 493.50h-10.4M53.5 498.50h5.4M677.5 498.50h-5.4M53.5 503.50h5.4M677.5 503.50h-5.4M53.5 508.50h5.4M677.5 508.50h-5.4M53.5 513.50h5.4M677.5 513.50h-5.4M53.5 518.50h10.4M677.5 518.50h-10.4M53.5 523.50h5.4M677.5 523.50h-5.4M53.5 528.50h5.4M677.5 528.50h-5.4M53.5 533.50h5.4M677.5 533.50h-5.4M53.5 538.50h5.4M677.5 538.50h-5.4M53.5 543.50h10.4M677.5 543.50h-10.4M53.5 548.50h5.4M677.5 548.50h-5.4M53.5 553.50h5.4M677.5 553.50h-5.4M53.5 558.50h5.4M677.5 558.50h-5.4M53.5 563.50h5.4M677.5 563.50h-5.4" fill="none" stroke="#444" stroke-width="1"/><g font-size="10"><text transform="translate(42.6,471.7) scale(1.045,1)" font-size="9.6" text-anchor="end">0.02</text><text transform="translate(42.6,496.7) scale(1.045,1)" font-size="9.6" text-anchor="end">0.01</text><text transform="translate(42.6,521.7) scale(1.045,1)" font-size="9.6" text-anchor="end">0.00</text><text transform="translate(42.6,546.7) scale(1.045,1)" font-size="9.6" text-anchor="end">−0.01</text><text transform="translate(42.6,571.7) scale(1.045,1)" font-size="9.6" text-anchor="end">−0.02</text><text transform="translate(94.3,587.5) scale(1.045,1)" font-size="9.6" text-anchor="middle">−1.5</text><text transform="translate(159.3,587.5) scale(1.045,1)" font-size="9.6" text-anchor="middle">−1.0</text><text transform="translate(224.3,587.5) scale(1.045,1)" font-size="9.6" text-anchor="middle">−0.5</text><text transform="translate(288.5,587.5) scale(1.045,1)" font-size="9.6" text-anchor="middle">0.0</text><text transform="translate(353.5,587.5) scale(1.045,1)" font-size="9.6" text-anchor="middle">0.5</text><text transform="translate(418.5,587.5) scale(1.045,1)" font-size="9.6" text-anchor="middle">1.0</text><text transform="translate(483.5,587.5) scale(1.045,1)" font-size="9.6" text-anchor="middle">1.5</text><text transform="translate(548.5,587.5) scale(1.045,1)" font-size="9.6" text-anchor="middle">2.0</text><text transform="translate(613.5,587.5) scale(1.045,1)" font-size="9.6" text-anchor="middle">2.5</text><text transform="translate(678.5,587.5) scale(1.045,1)" font-size="9.6" text-anchor="middle">3.0</text><text x="354.0" y="600.1">Log</text><path transform="translate(372.6,600.1) scale(0.740)" d="M0.1-4.2C0.6-5.3 1.2-5.5 2.3-5.5L6.7-5.9M4.4-5.6L3-1.6C2.7-0.5 3.1-0.1 4-0.5" fill="none" stroke="#000" stroke-width="1.28" stroke-linecap="round" stroke-linejoin="round"/><g transform="translate(8.1,553.8) rotate(-90)"><text x="-0.4" y="0.0" font-size="9.6">(</text><text x="4.5" y="0.0" font-size="9.6">C</text><text x="11.4" y="1.6" font-size="6.4">P</text><text x="16.0" y="0.0" font-size="9.6">(</text><path transform="translate(19.9,0.0) scale(0.620)" d="M0.1-4.2C0.6-5.3 1.2-5.5 2.3-5.5L6.7-5.9M4.4-5.6L3-1.6C2.7-0.5 3.1-0.1 4-0.5" fill="none" stroke="#000" stroke-width="1.53" stroke-linecap="round" stroke-linejoin="round"/><text x="24.6" y="1.6" font-size="6.4">i</text><text x="26.3" y="0.0" font-size="9.6">)</text><text x="29.2" y="0.0" font-size="9.6">−</text><text x="34.9" y="0.0" font-size="9.6">C</text><text x="42.2" y="1.6" font-size="6.4">P,i</text><text x="48.9" y="0.0" font-size="9.6">)</text><text x="51.4" y="0.0" font-size="9.6">/</text><text x="53.9" y="0.0" font-size="9.6">C</text><text x="61.0" y="1.6" font-size="6.4">P,i</text></g></g><text x="94.6" y="496.4" font-size="9.6">Residuals of the H</text><text x="172.7" y="498.4" font-size="7.0">2</text><text x="179.5" y="496.4" font-size="9.6">isobaric heat capacity C</text><text x="281.0" y="498.1" font-size="7.0">P</text><text x="285.2" y="496.4" font-size="9.6" font-family="'Liberation Serif', serif">(</text><path transform="translate(288.6,496.4) scale(0.700)" d="M0.1-4.2C0.6-5.3 1.2-5.5 2.3-5.5L6.7-5.9M4.4-5.6L3-1.6C2.7-0.5 3.1-0.1 4-0.5" fill="none" stroke="#000" stroke-width="1.36" stroke-linecap="round" stroke-linejoin="round"/><text x="293.9" y="496.4" font-size="9.6" font-family="'Liberation Serif', serif">)</text><text x="296.5" y="496.4" font-size="9.6">,</text><path transform="translate(301.8,496.4) scale(0.700)" d="M0.1-4.2C0.6-5.3 1.2-5.5 2.3-5.5L6.7-5.9M4.4-5.6L3-1.6C2.7-0.5 3.1-0.1 4-0.5" fill="none" stroke="#000" stroke-width="1.36" stroke-linecap="round" stroke-linejoin="round"/><text x="308.4" y="496.4" font-size="9.6">=</text><text x="316.1" y="496.4" font-size="9.6">1/|T</text><text x="337.1" y="496.4" font-size="9.6">/</text><text x="342.9" y="496.4" font-size="9.6">T</text><text x="347.9" y="498.1" font-size="7.0">c</text><text x="351.6" y="496.4" font-size="9.6">−1|,</text><text x="371.8" y="496.4" font-size="9.6">T</text><text x="379.6" y="496.4" font-size="10.5" font-family="'Liberation Serif', serif">&gt;</text><text x="388.2" y="496.4" font-size="9.6">T</text><text x="393.9" y="498.1" font-size="7.0">c</text><g fill="#fff" stroke="#000" stroke-width="0.75"><rect x="506.68" y="509.67" width="4.5" height="4.5"/><rect x="491.67" y="515.27" width="4.5" height="4.5"/><rect x="479.83" y="518.04" width="4.5" height="4.5"/><rect x="470.04" y="519.23" width="4.5" height="4.5"/><rect x="461.70" y="519.65" width="4.5" height="4.5"/><rect x="454.44" y="519.65" width="4.5" height="4.5"/><rect x="448.01" y="519.65" width="4.5" height="4.5"/><rect x="442.23" y="519.62" width="4.5" height="4.5"/><rect x="436.99" y="519.55" width="4.5" height="4.5"/><rect x="432.20" y="519.12" width="4.5" height="4.5"/><rect x="427.78" y="518.62" width="4.5" height="4.5"/><rect x="423.68" y="518.15" width="4.5" height="4.5"/><rect x="419.86" y="517.75" width="4.5" height="4.5"/><rect x="416.28" y="517.38" width="4.5" height="4.5"/><rect x="412.92" y="517.06" width="4.5" height="4.5"/><rect x="409.74" y="516.78" width="4.5" height="4.5"/><rect x="406.73" y="516.52" width="4.5" height="4.5"/><rect x="403.88" y="516.31" width="4.5" height="4.5"/><rect x="401.16" y="516.17" width="4.5" height="4.5"/><rect x="398.57" y="516.04" width="4.5" height="4.5"/><rect x="396.09" y="515.92" width="4.5" height="4.5"/><rect x="393.72" y="515.81" width="4.5" height="4.5"/><rect x="391.44" y="515.72" width="4.5" height="4.5"/><rect x="389.25" y="515.65" width="4.5" height="4.5"/><rect x="387.14" y="515.60" width="4.5" height="4.5"/><rect x="385.11" y="515.56" width="4.5" height="4.5"/><rect x="383.15" y="515.55" width="4.5" height="4.5"/><rect x="381.25" y="515.55" width="4.5" height="4.5"/><rect x="379.42" y="515.57" width="4.5" height="4.5"/><rect x="377.64" y="515.59" width="4.5" height="4.5"/><rect x="375.92" y="515.61" width="4.5" height="4.5"/><rect x="374.25" y="515.64" width="4.5" height="4.5"/><rect x="372.62" y="515.68" width="4.5" height="4.5"/><rect x="371.05" y="515.72" width="4.5" height="4.5"/><rect x="369.51" y="515.76" width="4.5" height="4.5"/><rect x="368.02" y="515.80" width="4.5" height="4.5"/><rect x="366.56" y="515.84" width="4.5" height="4.5"/><rect x="365.14" y="515.88" width="4.5" height="4.5"/><rect x="363.76" y="515.92" width="4.5" height="4.5"/><rect x="362.41" y="515.96" width="4.5" height="4.5"/><rect x="361.09" y="516.01" width="4.5" height="4.5"/><rect x="359.80" y="516.06" width="4.5" height="4.5"/><rect x="358.54" y="516.12" width="4.5" height="4.5"/><rect x="357.30" y="516.19" width="4.5" height="4.5"/><rect x="356.10" y="516.26" width="4.5" height="4.5"/><rect x="354.91" y="516.33" width="4.5" height="4.5"/><rect x="353.76" y="516.41" width="4.5" height="4.5"/><rect x="352.62" y="516.48" width="4.5" height="4.5"/><rect x="351.51" y="516.55" width="4.5" height="4.5"/><rect x="350.42" y="516.63" width="4.5" height="4.5"/><rect x="349.35" y="516.69" width="4.5" height="4.5"/><rect x="348.30" y="516.76" width="4.5" height="4.5"/><rect x="347.27" y="516.82" width="4.5" height="4.5"/><rect x="346.26" y="516.88" width="4.5" height="4.5"/><rect x="345.26" y="516.93" width="4.5" height="4.5"/><rect x="344.29" y="516.98" width="4.5" height="4.5"/><rect x="343.33" y="517.03" width="4.5" height="4.5"/><rect x="342.38" y="517.06" width="4.5" height="4.5"/><rect x="341.45" y="517.10" width="4.5" height="4.5"/><rect x="340.54" y="517.14" width="4.5" height="4.5"/><rect x="339.64" y="517.18" width="4.5" height="4.5"/><rect x="338.76" y="517.22" width="4.5" height="4.5"/><rect x="337.88" y="517.26" width="4.5" height="4.5"/><rect x="337.03" y="517.29" width="4.5" height="4.5"/><rect x="336.18" y="517.33" width="4.5" height="4.5"/><rect x="335.35" y="517.36" width="4.5" height="4.5"/><rect x="334.53" y="517.40" width="4.5" height="4.5"/><rect x="333.72" y="517.43" width="4.5" height="4.5"/><rect x="332.92" y="517.46" width="4.5" height="4.5"/><rect x="332.13" y="517.49" width="4.5" height="4.5"/><rect x="331.36" y="517.51" width="4.5" height="4.5"/><rect x="330.59" y="517.54" width="4.5" height="4.5"/><rect x="329.84" y="517.56" width="4.5" height="4.5"/><rect x="329.09" y="517.58" width="4.5" height="4.5"/><rect x="328.36" y="517.60" width="4.5" height="4.5"/><rect x="327.63" y="517.61" width="4.5" height="4.5"/><rect x="326.91" y="517.62" width="4.5" height="4.5"/><rect x="326.21" y="517.63" width="4.5" height="4.5"/><rect x="325.51" y="517.64" width="4.5" height="4.5"/><rect x="324.82" y="517.65" width="4.5" height="4.5"/><rect x="324.14" y="517.65" width="4.5" height="4.5"/><rect x="323.46" y="517.65" width="4.5" height="4.5"/><rect x="314.07" y="517.06" width="4.5" height="4.5"/><rect x="305.95" y="516.84" width="4.5" height="4.5"/><rect x="298.84" y="516.43" width="4.5" height="4.5"/><rect x="292.44" y="515.75" width="4.5" height="4.5"/><rect x="286.71" y="515.55" width="4.5" height="4.5"/><rect x="281.62" y="515.55" width="4.5" height="4.5"/><rect x="276.92" y="515.55" width="4.5" height="4.5"/><rect x="272.55" y="515.55" width="4.5" height="4.5"/><rect x="268.43" y="515.55" width="4.5" height="4.5"/><rect x="264.50" y="515.55" width="4.5" height="4.5"/><rect x="260.74" y="515.60" width="4.5" height="4.5"/><rect x="257.13" y="515.87" width="4.5" height="4.5"/><rect x="253.68" y="516.18" width="4.5" height="4.5"/><rect x="250.48" y="516.42" width="4.5" height="4.5"/><rect x="247.50" y="516.67" width="4.5" height="4.5"/><rect x="244.78" y="516.90" width="4.5" height="4.5"/><rect x="242.29" y="517.11" width="4.5" height="4.5"/><rect x="239.81" y="517.29" width="4.5" height="4.5"/><rect x="237.34" y="517.43" width="4.5" height="4.5"/><rect x="234.89" y="517.52" width="4.5" height="4.5"/><rect x="232.44" y="517.55" width="4.5" height="4.5"/><rect x="230.01" y="517.52" width="4.5" height="4.5"/><rect x="227.58" y="517.46" width="4.5" height="4.5"/><rect x="225.17" y="517.38" width="4.5" height="4.5"/><rect x="222.77" y="517.27" width="4.5" height="4.5"/><rect x="220.38" y="517.15" width="4.5" height="4.5"/><rect x="218.06" y="517.03" width="4.5" height="4.5"/><rect x="215.81" y="516.91" width="4.5" height="4.5"/><rect x="213.63" y="516.79" width="4.5" height="4.5"/><rect x="211.51" y="516.68" width="4.5" height="4.5"/><rect x="209.47" y="516.55" width="4.5" height="4.5"/><rect x="207.48" y="516.41" width="4.5" height="4.5"/><rect x="205.59" y="516.26" width="4.5" height="4.5"/><rect x="203.80" y="516.11" width="4.5" height="4.5"/><rect x="202.10" y="515.98" width="4.5" height="4.5"/><rect x="200.48" y="515.86" width="4.5" height="4.5"/><rect x="198.94" y="515.76" width="4.5" height="4.5"/><rect x="197.47" y="515.68" width="4.5" height="4.5"/><rect x="196.04" y="515.61" width="4.5" height="4.5"/><rect x="194.66" y="515.57" width="4.5" height="4.5"/><rect x="193.34" y="515.55" width="4.5" height="4.5"/><rect x="192.06" y="515.55" width="4.5" height="4.5"/><rect x="190.81" y="515.57" width="4.5" height="4.5"/><rect x="189.57" y="515.61" width="4.5" height="4.5"/><rect x="188.36" y="515.66" width="4.5" height="4.5"/><rect x="187.17" y="515.73" width="4.5" height="4.5"/><rect x="186.00" y="515.80" width="4.5" height="4.5"/><rect x="184.85" y="515.88" width="4.5" height="4.5"/><rect x="183.71" y="515.96" width="4.5" height="4.5"/><rect x="182.59" y="516.05" width="4.5" height="4.5"/><rect x="181.48" y="516.14" width="4.5" height="4.5"/><rect x="180.38" y="516.23" width="4.5" height="4.5"/><rect x="179.28" y="516.32" width="4.5" height="4.5"/><rect x="178.18" y="516.41" width="4.5" height="4.5"/><rect x="177.09" y="516.49" width="4.5" height="4.5"/><rect x="176.01" y="516.56" width="4.5" height="4.5"/><rect x="174.93" y="516.63" width="4.5" height="4.5"/><rect x="173.85" y="516.70" width="4.5" height="4.5"/><rect x="172.79" y="516.75" width="4.5" height="4.5"/><rect x="171.72" y="516.80" width="4.5" height="4.5"/><rect x="170.67" y="516.85" width="4.5" height="4.5"/><rect x="169.61" y="516.89" width="4.5" height="4.5" fill="#000" stroke-width="1.1"/><rect x="168.57" y="516.94" width="4.5" height="4.5" fill="#000" stroke-width="1.1"/><rect x="167.52" y="516.99" width="4.5" height="4.5" fill="#000" stroke-width="1.1"/><rect x="166.49" y="517.04" width="4.5" height="4.5" fill="#000" stroke-width="1.1"/><rect x="165.46" y="517.09" width="4.5" height="4.5" fill="#000" stroke-width="1.1"/><rect x="164.43" y="517.14" width="4.5" height="4.5" fill="#000" stroke-width="1.1"/><rect x="163.41" y="517.18" width="4.5" height="4.5" fill="#000" stroke-width="1.1"/><rect x="162.39" y="517.23" width="4.5" height="4.5" fill="#000" stroke-width="1.1"/><rect x="161.38" y="517.26" width="4.5" height="4.5" fill="#000" stroke-width="1.1"/><rect x="160.38" y="517.30" width="4.5" height="4.5" fill="#000" stroke-width="1.1"/><rect x="159.38" y="517.34" width="4.5" height="4.5" fill="#000" stroke-width="1.1"/><rect x="158.38" y="517.37" width="4.5" height="4.5" fill="#000" stroke-width="1.1"/><rect x="157.39" y="517.39" width="4.5" height="4.5" fill="#000" stroke-width="1.1"/><rect x="156.40" y="517.41" width="4.5" height="4.5" fill="#000" stroke-width="1.1"/><rect x="155.42" y="517.43" width="4.5" height="4.5" fill="#000" stroke-width="1.1"/><rect x="154.45" y="517.44" width="4.5" height="4.5" fill="#000" stroke-width="1.1"/><rect x="153.48" y="517.45" width="4.5" height="4.5" fill="#000" stroke-width="1.1"/><rect x="152.51" y="517.45" width="4.5" height="4.5" fill="#000" stroke-width="1.1"/><rect x="151.55" y="517.45" width="4.5" height="4.5" fill="#000" stroke-width="1.1"/><rect x="150.59" y="517.44" width="4.5" height="4.5" fill="#000" stroke-width="1.1"/><rect x="149.64" y="517.43" width="4.5" height="4.5" fill="#000" stroke-width="1.1"/><rect x="148.69" y="517.42" width="4.5" height="4.5" fill="#000" stroke-width="1.1"/><rect x="147.75" y="517.41" width="4.5" height="4.5" fill="#000" stroke-width="1.1"/><rect x="146.81" y="517.39" width="4.5" height="4.5" fill="#000" stroke-width="1.1"/><rect x="145.88" y="517.38" width="4.5" height="4.5" fill="#000" stroke-width="1.1"/><rect x="144.95" y="517.36" width="4.5" height="4.5" fill="#000" stroke-width="1.1"/><rect x="144.03" y="517.34" width="4.5" height="4.5" fill="#000" stroke-width="1.1"/><rect x="143.11" y="517.31" width="4.5" height="4.5" fill="#000" stroke-width="1.1"/><rect x="142.19" y="517.29" width="4.5" height="4.5" fill="#000" stroke-width="1.1"/><rect x="141.29" y="517.27" width="4.5" height="4.5" fill="#000" stroke-width="1.1"/><rect x="140.39" y="517.25" width="4.5" height="4.5" fill="#000" stroke-width="1.1"/><rect x="139.50" y="517.22" width="4.5" height="4.5" fill="#000" stroke-width="1.1"/><rect x="138.61" y="517.20" width="4.5" height="4.5" fill="#000" stroke-width="1.1"/><rect x="137.74" y="517.17" width="4.5" height="4.5" fill="#000" stroke-width="1.1"/><rect x="136.87" y="517.15" width="4.5" height="4.5" fill="#000" stroke-width="1.1"/><rect x="136.01" y="517.13" width="4.5" height="4.5" fill="#000" stroke-width="1.1"/><rect x="135.15" y="517.11" width="4.5" height="4.5" fill="#000" stroke-width="1.1"/><rect x="134.31" y="517.09" width="4.5" height="4.5" fill="#000" stroke-width="1.1"/><rect x="133.46" y="517.07" width="4.5" height="4.5" fill="#000" stroke-width="1.1"/><rect x="132.63" y="517.05" width="4.5" height="4.5" fill="#000" stroke-width="1.1"/><rect x="131.80" y="517.03" width="4.5" height="4.5" fill="#000" stroke-width="1.1"/><rect x="130.99" y="517.01" width="4.5" height="4.5" fill="#000" stroke-width="1.1"/><rect x="130.17" y="516.98" width="4.5" height="4.5" fill="#000" stroke-width="1.1"/><rect x="129.37" y="516.96" width="4.5" height="4.5" fill="#000" stroke-width="1.1"/><rect x="128.57" y="516.94" width="4.5" height="4.5" fill="#000" stroke-width="1.1"/><rect x="127.77" y="516.91" width="4.5" height="4.5" fill="#000" stroke-width="1.1"/><rect x="126.99" y="516.88" width="4.5" height="4.5" fill="#000" stroke-width="1.1"/><rect x="126.21" y="516.86" width="4.5" height="4.5" fill="#000" stroke-width="1.1"/><rect x="125.44" y="516.83" width="4.5" height="4.5" fill="#000" stroke-width="1.1"/><rect x="124.67" y="516.81" width="4.5" height="4.5" fill="#000" stroke-width="1.1"/><rect x="123.91" y="516.78" width="4.5" height="4.5" fill="#000" stroke-width="1.1"/><rect x="123.16" y="516.76" width="4.5" height="4.5" fill="#000" stroke-width="1.1"/><rect x="122.41" y="516.73" width="4.5" height="4.5" fill="#000" stroke-width="1.1"/><rect x="121.67" y="516.71" width="4.5" height="4.5" fill="#000" stroke-width="1.1"/><rect x="120.93" y="516.69" width="4.5" height="4.5" fill="#000" stroke-width="1.1"/><rect x="120.20" y="516.67" width="4.5" height="4.5" fill="#000" stroke-width="1.1"/><rect x="119.48" y="516.65" width="4.5" height="4.5" fill="#000" stroke-width="1.1"/><rect x="118.76" y="516.63" width="4.5" height="4.5" fill="#000" stroke-width="1.1"/><rect x="118.05" y="516.61" width="4.5" height="4.5" fill="#000" stroke-width="1.1"/><rect x="117.35" y="516.60" width="4.5" height="4.5" fill="#000" stroke-width="1.1"/><rect x="116.65" y="516.59" width="4.5" height="4.5" fill="#000" stroke-width="1.1"/><rect x="115.95" y="516.57" width="4.5" height="4.5" fill="#000" stroke-width="1.1"/><rect x="115.27" y="516.57" width="4.5" height="4.5" fill="#000" stroke-width="1.1"/><rect x="114.58" y="516.56" width="4.5" height="4.5" fill="#000" stroke-width="1.1"/><rect x="113.91" y="516.55" width="4.5" height="4.5" fill="#000" stroke-width="1.1"/><rect x="113.24" y="516.55" width="4.5" height="4.5" fill="#000" stroke-width="1.1"/><rect x="112.57" y="516.55" width="4.5" height="4.5" fill="#000" stroke-width="1.1"/><rect x="111.91" y="516.55" width="4.5" height="4.5" fill="#000" stroke-width="1.1"/><rect x="111.26" y="516.55" width="4.5" height="4.5" fill="#000" stroke-width="1.1"/><rect x="110.61" y="516.56" width="4.5" height="4.5" fill="#000" stroke-width="1.1"/><rect x="109.97" y="516.56" width="4.5" height="4.5" fill="#000" stroke-width="1.1"/><rect x="109.33" y="516.57" width="4.5" height="4.5" fill="#000" stroke-width="1.1"/><rect x="108.70" y="516.58" width="4.5" height="4.5" fill="#000" stroke-width="1.1"/><rect x="108.07" y="516.59" width="4.5" height="4.5" fill="#000" stroke-width="1.1"/><rect x="107.45" y="516.60" width="4.5" height="4.5" fill="#000" stroke-width="1.1"/><rect x="106.83" y="516.61" width="4.5" height="4.5" fill="#000" stroke-width="1.1"/><rect x="106.22" y="516.62" width="4.5" height="4.5" fill="#000" stroke-width="1.1"/><rect x="105.62" y="516.64" width="4.5" height="4.5" fill="#000" stroke-width="1.1"/><rect x="105.01" y="516.65" width="4.5" height="4.5" fill="#000" stroke-width="1.1"/><rect x="104.42" y="516.67" width="4.5" height="4.5" fill="#000" stroke-width="1.1"/><rect x="103.83" y="516.69" width="4.5" height="4.5" fill="#000" stroke-width="1.1"/><rect x="103.24" y="516.70" width="4.5" height="4.5" fill="#000" stroke-width="1.1"/><rect x="102.66" y="516.72" width="4.5" height="4.5" fill="#000" stroke-width="1.1"/><rect x="102.08" y="516.74" width="4.5" height="4.5" fill="#000" stroke-width="1.1"/><rect x="101.51" y="516.76" width="4.5" height="4.5" fill="#000" stroke-width="1.1"/><rect x="100.94" y="516.78" width="4.5" height="4.5" fill="#000" stroke-width="1.1"/><rect x="100.38" y="516.81" width="4.5" height="4.5" fill="#000" stroke-width="1.1"/><rect x="99.82" y="516.83" width="4.5" height="4.5" fill="#000" stroke-width="1.1"/><rect x="99.27" y="516.85" width="4.5" height="4.5" fill="#000" stroke-width="1.1"/><rect x="98.72" y="516.88" width="4.5" height="4.5" fill="#000" stroke-width="1.1"/><rect x="98.18" y="516.90" width="4.5" height="4.5" fill="#000" stroke-width="1.1"/><rect x="97.64" y="516.92" width="4.5" height="4.5" fill="#000" stroke-width="1.1"/><rect x="97.10" y="516.95" width="4.5" height="4.5" fill="#000" stroke-width="1.1"/><rect x="96.57" y="516.98" width="4.5" height="4.5" fill="#000" stroke-width="1.1"/><rect x="96.05" y="517.00" width="4.5" height="4.5" fill="#000" stroke-width="1.1"/><rect x="95.52" y="517.03" width="4.5" height="4.5" fill="#000" stroke-width="1.1"/><rect x="94.88" y="517.06" width="4.5" height="4.5"/></g><path d="M53.5 518.5H677.5" stroke="#ff5c5c" stroke-width="1" fill="none"/><path d="M53.5 647.5V747.5H677.5V647.5ZM66.50 747.5v-5.6M66.50 647.5v5.6M79.50 747.5v-5.6M79.50 647.5v5.6M92.50 747.5v-10.4M92.50 647.5v10.4M105.50 747.5v-5.6M105.50 647.5v5.6M118.50 747.5v-5.6M118.50 647.5v5.6M131.50 747.5v-5.6M131.50 647.5v5.6M144.50 747.5v-5.6M144.50 647.5v5.6M157.50 747.5v-10.4M157.50 647.5v10.4M170.50 747.5v-5.6M170.50 647.5v5.6M183.50 747.5v-5.6M183.50 647.5v5.6M196.50 747.5v-5.6M196.50 647.5v5.6M209.50 747.5v-5.6M209.50 647.5v5.6M222.50 747.5v-10.4M222.50 647.5v10.4M235.50 747.5v-5.6M235.50 647.5v5.6M248.50 747.5v-5.6M248.50 647.5v5.6M261.50 747.5v-5.6M261.50 647.5v5.6M274.50 747.5v-5.6M274.50 647.5v5.6M287.50 747.5v-10.4M287.50 647.5v10.4M300.50 747.5v-5.6M300.50 647.5v5.6M313.50 747.5v-5.6M313.50 647.5v5.6M326.50 747.5v-5.6M326.50 647.5v5.6M339.50 747.5v-5.6M339.50 647.5v5.6M352.50 747.5v-10.4M352.50 647.5v10.4M365.50 747.5v-5.6M365.50 647.5v5.6M378.50 747.5v-5.6M378.50 647.5v5.6M391.50 747.5v-5.6M391.50 647.5v5.6M404.50 747.5v-5.6M404.50 647.5v5.6M417.50 747.5v-10.4M417.50 647.5v10.4M430.50 747.5v-5.6M430.50 647.5v5.6M443.50 747.5v-5.6M443.50 647.5v5.6M456.50 747.5v-5.6M456.50 647.5v5.6M469.50 747.5v-5.6M469.50 647.5v5.6M482.50 747.5v-10.4M482.50 647.5v10.4M495.50 747.5v-5.6M495.50 647.5v5.6M508.50 747.5v-5.6M508.50 647.5v5.6M521.50 747.5v-5.6M521.50 647.5v5.6M534.50 747.5v-5.6M534.50 647.5v5.6M547.50 747.5v-10.4M547.50 647.5v10.4M560.50 747.5v-5.6M560.50 647.5v5.6M573.50 747.5v-5.6M573.50 647.5v5.6M586.50 747.5v-5.6M586.50 647.5v5.6M599.50 747.5v-5.6M599.50 647.5v5.6M612.50 747.5v-10.4M612.50 647.5v10.4M625.50 747.5v-5.6M625.50 647.5v5.6M638.50 747.5v-5.6M638.50 647.5v5.6M651.50 747.5v-5.6M651.50 647.5v5.6M664.50 747.5v-5.6M664.50 647.5v5.6M53.5 652.50h5.4M677.5 652.50h-5.4M53.5 657.50h5.4M677.5 657.50h-5.4M53.5 662.50h5.4M677.5 662.50h-5.4M53.5 667.50h5.4M677.5 667.50h-5.4M53.5 672.50h10.4M677.5 672.50h-10.4M53.5 677.50h5.4M677.5 677.50h-5.4M53.5 682.50h5.4M677.5 682.50h-5.4M53.5 687.50h5.4M677.5 687.50h-5.4M53.5 692.50h5.4M677.5 692.50h-5.4M53.5 697.50h10.4M677.5 697.50h-10.4M53.5 702.50h5.4M677.5 702.50h-5.4M53.5 707.50h5.4M677.5 707.50h-5.4M53.5 712.50h5.4M677.5 712.50h-5.4M53.5 717.50h5.4M677.5 717.50h-5.4M53.5 722.50h10.4M677.5 722.50h-10.4M53.5 727.50h5.4M677.5 727.50h-5.4M53.5 732.50h5.4M677.5 732.50h-5.4M53.5 737.50h5.4M677.5 737.50h-5.4M53.5 742.50h5.4M677.5 742.50h-5.4" fill="none" stroke="#444" stroke-width="1"/><g font-size="10"><text transform="translate(42.6,650.7) scale(1.045,1)" font-size="9.6" text-anchor="end">0.02</text><text transform="translate(42.6,675.7) scale(1.045,1)" font-size="9.6" text-anchor="end">0.01</text><text transform="translate(42.6,700.7) scale(1.045,1)" font-size="9.6" text-anchor="end">0.00</text><text transform="translate(42.6,725.7) scale(1.045,1)" font-size="9.6" text-anchor="end">−0.01</text><text transform="translate(42.6,750.7) scale(1.045,1)" font-size="9.6" text-anchor="end">−0.02</text><text transform="translate(94.3,766.5) scale(1.045,1)" font-size="9.6" text-anchor="middle">−1.5</text><text transform="translate(159.3,766.5) scale(1.045,1)" font-size="9.6" text-anchor="middle">−1.0</text><text transform="translate(224.3,766.5) scale(1.045,1)" font-size="9.6" text-anchor="middle">−0.5</text><text transform="translate(288.5,766.5) scale(1.045,1)" font-size="9.6" text-anchor="middle">0.0</text><text transform="translate(353.5,766.5) scale(1.045,1)" font-size="9.6" text-anchor="middle">0.5</text><text transform="translate(418.5,766.5) scale(1.045,1)" font-size="9.6" text-anchor="middle">1.0</text><text transform="translate(483.5,766.5) scale(1.045,1)" font-size="9.6" text-anchor="middle">1.5</text><text transform="translate(548.5,766.5) scale(1.045,1)" font-size="9.6" text-anchor="middle">2.0</text><text transform="translate(613.5,766.5) scale(1.045,1)" font-size="9.6" text-anchor="middle">2.5</text><text transform="translate(678.5,766.5) scale(1.045,1)" font-size="9.6" text-anchor="middle">3.0</text><text x="354.0" y="779.1">Log</text><path transform="translate(372.6,779.1) scale(0.740)" d="M0.1-4.2C0.6-5.3 1.2-5.5 2.3-5.5L6.7-5.9M4.4-5.6L3-1.6C2.7-0.5 3.1-0.1 4-0.5" fill="none" stroke="#000" stroke-width="1.28" stroke-linecap="round" stroke-linejoin="round"/><g transform="translate(8.1,732.8) rotate(-90)"><text x="-0.4" y="0.0" font-size="9.6">(</text><text x="4.5" y="0.0" font-size="9.6">C</text><text x="11.4" y="1.6" font-size="6.4">P</text><text x="16.0" y="0.0" font-size="9.6">(</text><path transform="translate(19.9,0.0) scale(0.620)" d="M0.1-4.2C0.6-5.3 1.2-5.5 2.3-5.5L6.7-5.9M4.4-5.6L3-1.6C2.7-0.5 3.1-0.1 4-0.5" fill="none" stroke="#000" stroke-width="1.53" stroke-linecap="round" stroke-linejoin="round"/><text x="24.6" y="1.6" font-size="6.4">i</text><text x="26.3" y="0.0" font-size="9.6">)</text><text x="29.2" y="0.0" font-size="9.6">−</text><text x="34.9" y="0.0" font-size="9.6">C</text><text x="42.2" y="1.6" font-size="6.4">P,i</text><text x="48.9" y="0.0" font-size="9.6">)</text><text x="51.4" y="0.0" font-size="9.6">/</text><text x="53.9" y="0.0" font-size="9.6">C</text><text x="61.0" y="1.6" font-size="6.4">P,i</text></g></g><text x="94.6" y="675.4" font-size="9.6">Residuals of the H</text><text x="172.7" y="677.4" font-size="7.0">2</text><text x="179.5" y="675.4" font-size="9.6">isobaric heat capacity C</text><text x="281.0" y="677.1" font-size="7.0">P</text><text x="285.2" y="675.4" font-size="9.6" font-family="'Liberation Serif', serif">(</text><path transform="translate(288.6,675.4) scale(0.700)" d="M0.1-4.2C0.6-5.3 1.2-5.5 2.3-5.5L6.7-5.9M4.4-5.6L3-1.6C2.7-0.5 3.1-0.1 4-0.5" fill="none" stroke="#000" stroke-width="1.36" stroke-linecap="round" stroke-linejoin="round"/><text x="293.9" y="675.4" font-size="9.6" font-family="'Liberation Serif', serif">)</text><text x="296.5" y="675.4" font-size="9.6">,</text><path transform="translate(301.8,675.4) scale(0.700)" d="M0.1-4.2C0.6-5.3 1.2-5.5 2.3-5.5L6.7-5.9M4.4-5.6L3-1.6C2.7-0.5 3.1-0.1 4-0.5" fill="none" stroke="#000" stroke-width="1.36" stroke-linecap="round" stroke-linejoin="round"/><text x="308.4" y="675.4" font-size="9.6">=</text><text x="316.1" y="675.4" font-size="9.6">1/|T</text><text x="337.1" y="675.4" font-size="9.6">/</text><text x="342.9" y="675.4" font-size="9.6">T</text><text x="347.9" y="677.1" font-size="7.0">c</text><text x="351.6" y="675.4" font-size="9.6">−1|,</text><text x="371.8" y="675.4" font-size="9.6">T</text><text x="379.6" y="675.4" font-size="10.5" font-family="'Liberation Serif', serif">&lt;</text><text x="388.2" y="675.4" font-size="9.6">T</text><text x="393.9" y="677.1" font-size="7.0">c</text><path d="M516.2 694.5h5.6v5.6h-5.6zM498.6 695.7h5.6v5.6h-5.6zM485.3 696.1h5.6v5.6h-5.6zM474.5 695.7h5.6v5.6h-5.6zM465.4 695.3h5.6v5.6h-5.6zM457.6 695.1h5.6v5.6h-5.6zM450.7 694.9h5.6v5.6h-5.6zM444.6 694.7h5.6v5.6h-5.6zM439.1 694.8h5.6v5.6h-5.6zM434.1 694.9h5.6v5.6h-5.6zM429.5 695.1h5.6v5.6h-5.6zM425.2 695.1h5.6v5.6h-5.6zM421.2 695.2h5.6v5.6h-5.6zM417.5 695.2h5.6v5.6h-5.6zM414.1 695.2h5.6v5.6h-5.6zM410.8 695.3h5.6v5.6h-5.6zM407.7 695.3h5.6v5.6h-5.6zM404.8 695.3h5.6v5.6h-5.6zM402.0 695.4h5.6v5.6h-5.6zM399.3 695.4h5.6v5.6h-5.6zM396.8 695.4h5.6v5.6h-5.6zM394.3 695.5h5.6v5.6h-5.6zM392.0 695.5h5.6v5.6h-5.6zM389.8 695.5h5.6v5.6h-5.6zM387.6 695.5h5.6v5.6h-5.6zM385.6 695.5h5.6v5.6h-5.6zM383.6 695.5h5.6v5.6h-5.6zM381.6 695.5h5.6v5.6h-5.6zM379.8 695.5h5.6v5.6h-5.6zM378.0 695.5h5.6v5.6h-5.6zM376.2 695.4h5.6v5.6h-5.6zM374.5 695.4h5.6v5.6h-5.6zM372.9 695.4h5.6v5.6h-5.6zM371.2 695.4h5.6v5.6h-5.6zM369.7 695.4h5.6v5.6h-5.6zM368.2 695.4h5.6v5.6h-5.6zM366.7 695.4h5.6v5.6h-5.6zM365.3 695.4h5.6v5.6h-5.6zM363.9 695.4h5.6v5.6h-5.6zM362.5 695.4h5.6v5.6h-5.6zM361.2 695.4h5.6v5.6h-5.6zM359.8 695.5h5.6v5.6h-5.6zM358.6 695.5h5.6v5.6h-5.6zM357.3 695.5h5.6v5.6h-5.6zM356.1 695.5h5.6v5.6h-5.6zM354.9 695.5h5.6v5.6h-5.6zM353.7 695.6h5.6v5.6h-5.6zM352.6 695.6h5.6v5.6h-5.6zM351.5 695.6h5.6v5.6h-5.6zM350.4 695.6h5.6v5.6h-5.6zM349.3 695.7h5.6v5.6h-5.6zM348.2 695.7h5.6v5.6h-5.6zM347.2 695.7h5.6v5.6h-5.6zM346.2 695.7h5.6v5.6h-5.6zM345.2 695.8h5.6v5.6h-5.6zM344.2 695.8h5.6v5.6h-5.6zM343.2 695.9h5.6v5.6h-5.6zM342.2 695.9h5.6v5.6h-5.6zM341.3 696.0h5.6v5.6h-5.6zM340.4 696.0h5.6v5.6h-5.6zM339.5 696.1h5.6v5.6h-5.6zM338.6 696.1h5.6v5.6h-5.6zM337.7 696.1h5.6v5.6h-5.6zM336.8 696.1h5.6v5.6h-5.6zM336.0 696.1h5.6v5.6h-5.6zM335.2 696.1h5.6v5.6h-5.6zM334.3 696.1h5.6v5.6h-5.6zM333.5 696.0h5.6v5.6h-5.6zM332.7 696.0h5.6v5.6h-5.6zM331.9 696.0h5.6v5.6h-5.6zM331.1 695.9h5.6v5.6h-5.6zM330.4 695.9h5.6v5.6h-5.6zM329.6 695.8h5.6v5.6h-5.6zM328.9 695.6h5.6v5.6h-5.6zM328.1 695.5h5.6v5.6h-5.6zM327.4 695.3h5.6v5.6h-5.6zM326.7 695.1h5.6v5.6h-5.6zM325.9 694.6h5.6v5.6h-5.6zM325.2 694.0h5.6v5.6h-5.6zM324.5 693.4h5.6v5.6h-5.6zM323.9 692.9h5.6v5.6h-5.6zM323.2 692.7h5.6v5.6h-5.6zM322.5 692.6h5.6v5.6h-5.6zM321.8 692.5h5.6v5.6h-5.6zM321.2 692.5h5.6v5.6h-5.6zM320.5 692.5h5.6v5.6h-5.6zM319.9 693.0h5.6v5.6h-5.6zM319.3 693.9h5.6v5.6h-5.6zM318.6 695.0h5.6v5.6h-5.6zM318.0 696.7h5.6v5.6h-5.6zM317.4 698.8h5.6v5.6h-5.6zM316.9 701.1h5.6v5.6h-5.6z" fill="#000"/><path d="M53.5 697.5H677.5" stroke="#80ff80" stroke-width="1" fill="none"/></svg></body></html>
